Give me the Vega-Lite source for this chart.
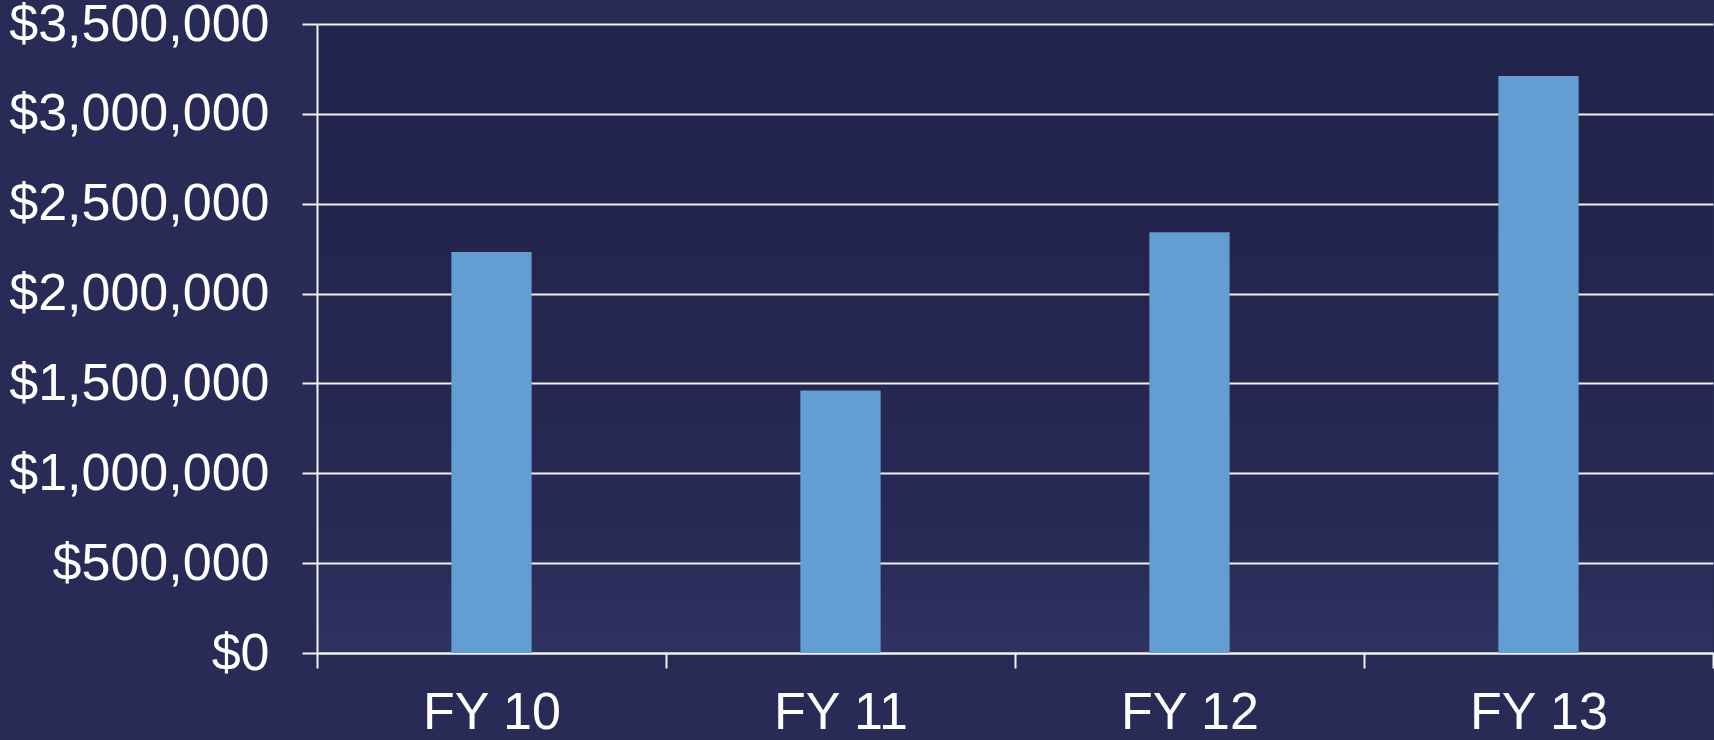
{
  "$schema": "https://vega.github.io/schema/vega-lite/v6.json",
  "autosize": {"type": "none"},
  "width": 1396,
  "height": 629,
  "padding": {"left": 317, "top": 24, "right": 1, "bottom": 87},
  "background": "#292b57",
  "config": {
    "font": "Liberation Sans"
  },
  "view": {
    "stroke": null,
    "fill": {
      "gradient": "linear",
      "x1": 0, "y1": 0, "x2": 0, "y2": 1,
      "stops": [
        {"offset": 0, "color": "#22244c"},
        {"offset": 0.5, "color": "#24264f"},
        {"offset": 0.8, "color": "#282a56"},
        {"offset": 1, "color": "#30325f"}
      ]
    }
  },
  "data": {
    "values": [
      {"year": "FY 10", "amount": 2232000},
      {"year": "FY 11", "amount": 1460000},
      {"year": "FY 12", "amount": 2341000},
      {"year": "FY 13", "amount": 3211000}
    ]
  },
  "mark": {"type": "bar", "color": "#629ed2", "width": {"band": 0.23}},
  "encoding": {
    "x": {
      "field": "year",
      "type": "nominal",
      "sort": null,
      "scale": {"paddingInner": 0, "paddingOuter": 0},
      "axis": {
        "title": null,
        "labelAngle": 0,
        "labelFontSize": 52,
        "labelColor": "#ffffff",
        "labelPadding": 19,
        "labelLimit": 0,
        "tickBand": "extent",
        "tickSize": 15,
        "tickColor": "#f2f2f2",
        "tickWidth": 2,
        "domainColor": "#f2f2f2",
        "domainWidth": 2,
        "grid": false
      }
    },
    "y": {
      "field": "amount",
      "type": "quantitative",
      "scale": {"domain": [0, 3500000]},
      "axis": {
        "title": null,
        "values": [0, 500000, 1000000, 1500000, 2000000, 2500000, 3000000, 3500000],
        "format": "$,.0f",
        "labelFontSize": 52,
        "labelColor": "#ffffff",
        "labelPadding": 33,
        "labelLimit": 0,
        "tickSize": 15,
        "tickColor": "#f2f2f2",
        "tickWidth": 2,
        "domainColor": "#f2f2f2",
        "domainWidth": 2,
        "grid": true,
        "gridColor": "#f2f2f2",
        "gridWidth": 2,
        "gridOpacity": 1
      }
    }
  }
}
